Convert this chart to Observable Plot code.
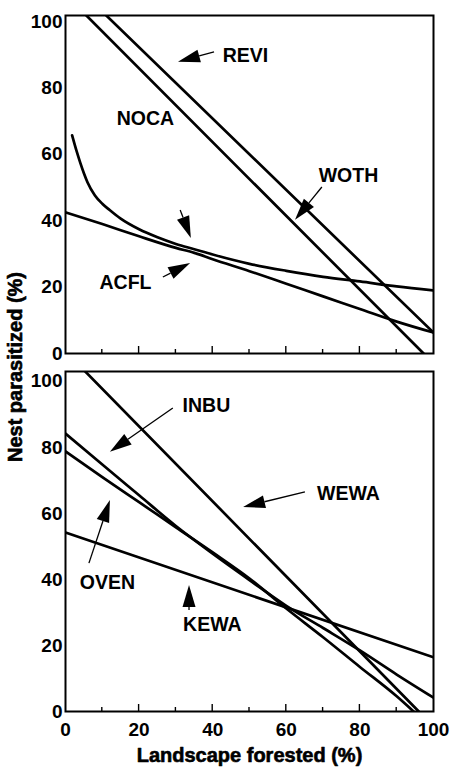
<!DOCTYPE html>
<html><head><meta charset="utf-8">
<script src="https://cdn.jsdelivr.net/npm/d3@7"></script>
<script src="https://cdn.jsdelivr.net/npm/@observablehq/plot@0.6"></script>
<style>
html,body{margin:0;padding:0;background:#fff;}
#chart{position:relative;width:452px;height:770px;font-family:"Liberation Sans",Arial,sans-serif;}
#chart svg{display:block}
#ytitle{position:absolute;left:0;top:0;pointer-events:none}
</style></head><body><div id="chart"></div>
<script>
// ---------- data ----------
const xTicks = [0, 20, 40, 60, 80, 100];
const yTicks = [0, 20, 40, 60, 80, 100];
const majorTicks = [20, 40, 60, 80];
const minorTicks = [10, 30, 50, 70, 90];
const xTitle = "Landscape forested (%)";
const yTitle = "Nest parasitized (%)";

// top panel series
const reviX = [0, 100];
const reviY = [113.7, 6.3];
const wothX = [0, 97.3];
const wothY = [108.1, 0];
const nocaX = [1.8, 3, 4, 5, 6, 8, 10, 12, 15, 20, 25, 30, 35, 40, 50, 60, 70, 80, 90, 100];
const nocaY = [65.7, 61, 57.5, 54.3, 51.5, 47.6, 45.1, 43.2, 40.6, 37.4, 35, 33, 31.4, 29.8, 27, 24.9, 23.1, 21.7, 20.2, 19];
const acflX = [0, 10, 20, 30, 35, 40, 50, 60, 70, 80, 90, 100];
const acflY = [42.5, 39, 35.3, 31.8, 30.3, 28.4, 24.8, 21, 17.2, 13.4, 9.6, 6.3];

// bottom panel series
const wewaX = [0, 96];
const wewaY = [109.1, 0];
const inbuX = [0, 10, 20, 30, 40, 50, 60, 70, 80, 90, 100];
const inbuY = [84.2, 74.8, 65.5, 56.2, 47.8, 39.8, 32, 25.3, 18.5, 11.2, 4.2];
const ovenX = [0, 10, 20, 30, 40, 50, 60, 70, 80, 90, 94.6];
const ovenY = [78.8, 71, 63.4, 55.8, 48.2, 40.3, 31.2, 22.5, 13.5, 4.6, 0];
const kewaX = [0, 100];
const kewaY = [54.2, 16.4];

// annotations (data coordinates)
const topLabels = ["REVI", "NOCA", "WOTH", "ACFL"];
const topLabelX = [48.9, 21.7, 76.9, 16.3];
const topLabelY = [89.6, 70.8, 53.6, 21.4];
const topArrowX1 = [40.5, 69.8, 31.3, 26.6];
const topArrowY1 = [90.7, 50.0, 43.1, 22.9];
const topArrowX2 = [30.7, 62.5, 34.2, 34.0];
const topArrowY2 = [87.7, 40.1, 34.6, 27.1];

const botLabels = ["INBU", "WEWA", "OVEN", "KEWA"];
const botLabelX = [38.3, 76.9, 11.4, 39.9];
const botLabelY = [92.7, 66.1, 39.1, 26.4];
const botArrowX1 = [29.3, 65.2, 6.5, 33.7];
const botArrowY1 = [91.8, 66.4, 44.8, 30.6];
const botArrowX2 = [12.2, 48.4, 12.2, 33.7];
const botArrowY2 = [78.5, 61.8, 63.9, 38.2];

// ---------- helpers ----------
const pts = (xs, ys) => xs.map((x, i) => ({x, y: ys[i]}));
const font = "Liberation Sans, Arial, Helvetica, sans-serif";

function arrows(X1, Y1, X2, Y2) {
  return (index, scales) => {
    const g = d3.create("svg:g");
    const HL = 22, HW = 6.5;
    for (let i = 0; i < X1.length; ++i) {
      const x1 = scales.x(X1[i]), y1 = scales.y(Y1[i]);
      const x2 = scales.x(X2[i]), y2 = scales.y(Y2[i]);
      const dx = x2 - x1, dy = y2 - y1, L = Math.hypot(dx, dy);
      const ux = dx / L, uy = dy / L;
      const hl = Math.min(HL, L);
      const bx = x2 - ux * hl, by = y2 - uy * hl;
      if (L > hl + 0.5) {
        g.append("line").attr("x1", x1).attr("y1", y1).attr("x2", bx).attr("y2", by)
          .attr("stroke", "black").attr("stroke-width", 1.3);
      }
      g.append("path")
        .attr("d", `M${x2},${y2}L${bx - uy * HW},${by + ux * HW}L${bx + uy * HW},${by - ux * HW}Z`)
        .attr("fill", "black");
    }
    return g.node();
  };
}

function innerTicks() {
  return (index, scales, values, dims) => {
    const g = d3.create("svg:g").attr("stroke", "black").attr("stroke-width", 1.4);
    const yb = dims.height - dims.marginBottom;
    for (const t of majorTicks) g.append("line").attr("x1", scales.x(t)).attr("x2", scales.x(t)).attr("y1", yb).attr("y2", yb - 7);
    for (const t of minorTicks) g.append("line").attr("x1", scales.x(t)).attr("x2", scales.x(t)).attr("y1", yb).attr("y2", yb - 4);
    return g.node();
  };
}

const lineOpts = {x: "x", y: "y", stroke: "black", strokeWidth: 2.7, clip: true};
const curveOpts = {...lineOpts, curve: "monotone-x"};
const style = {fontFamily: font, fontSize: "19px", fontWeight: "bold", color: "black", background: "white"};
const labelOpts = {text: d => d, fontSize: 19.5, fontWeight: "bold", fill: "black"};

// ---------- top panel ----------
const topPlot = Plot.plot({
  width: 452, height: 368,
  marginTop: 15, marginBottom: 15, marginLeft: 65, marginRight: 19,
  style,
  x: {domain: [0, 100], axis: null},
  y: {domain: [0, 101.8], ticks: yTicks, tickSize: 0, tickPadding: 3, label: null},
  marks: [
    Plot.line(pts(reviX, reviY), lineOpts),
    Plot.line(pts(wothX, wothY), lineOpts),
    Plot.line(pts(nocaX, nocaY), curveOpts),
    Plot.line(pts(acflX, acflY), curveOpts),
    innerTicks(),
    Plot.frame({stroke: "black", strokeWidth: 2}),
    Plot.text(topLabels, {...labelOpts, x: (d, i) => topLabelX[i], y: (d, i) => topLabelY[i]}),
    arrows(topArrowX1, topArrowY1, topArrowX2, topArrowY2)
  ]
});

// ---------- bottom panel ----------
const botPlot = Plot.plot({
  width: 452, height: 402,
  marginTop: 3, marginBottom: 59, marginLeft: 65, marginRight: 19,
  style,
  x: {domain: [0, 100], ticks: xTicks, tickSize: 0, tickPadding: 11, label: null},
  y: {domain: [0, 103], ticks: yTicks, tickSize: 0, tickPadding: 3, label: null},
  marks: [
    Plot.line(pts(wewaX, wewaY), lineOpts),
    Plot.line(pts(inbuX, inbuY), curveOpts),
    Plot.line(pts(ovenX, ovenY), curveOpts),
    Plot.line(pts(kewaX, kewaY), lineOpts),
    innerTicks(),
    Plot.frame({stroke: "black", strokeWidth: 2}),
    Plot.text(botLabels, {...labelOpts, x: (d, i) => botLabelX[i], y: (d, i) => botLabelY[i]}),
    arrows(botArrowX1, botArrowY1, botArrowX2, botArrowY2),
    Plot.text([xTitle], {frameAnchor: "bottom", lineAnchor: "middle", dy: 44, text: d => d, fontWeight: "bold", fontSize: 20, fill: "black", stroke: "black", strokeWidth: 0.6})
  ]
});

const chart = document.getElementById("chart");
chart.appendChild(topPlot);
chart.appendChild(botPlot);

// y-axis title spanning both panels
const ov = d3.create("svg").attr("id", "ytitle").attr("width", 452).attr("height", 770);
ov.append("text")
  .attr("transform", "translate(22,367) rotate(-90)")
  .attr("text-anchor", "middle")
  .attr("font-family", font).attr("font-weight", "bold").attr("font-size", 20)
  .attr("fill", "black").attr("stroke", "black").attr("stroke-width", 0.6)
  .text(yTitle);
chart.appendChild(ov.node());
</script></body></html>
